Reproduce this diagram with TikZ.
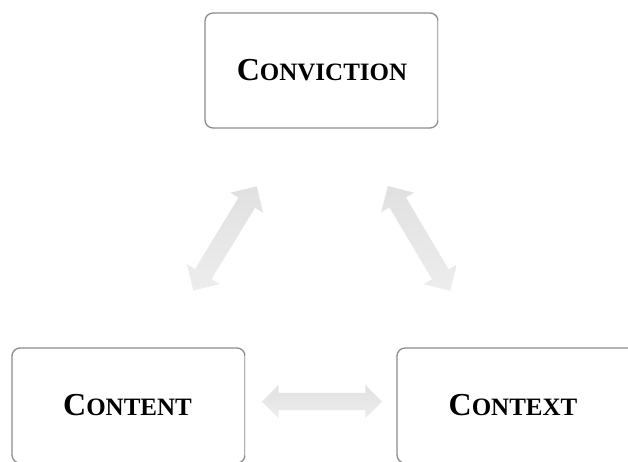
\documentclass[tikz,border=0pt]{standalone}
\usepackage{fontspec}
\setmainfont{Liberation Serif}
\usetikzlibrary{shapes.arrows}
\newcommand{\capword}[2]{{\fontsize{32}{36}\selectfont\bfseries #1}{\fontsize{25}{30}\selectfont\bfseries #2}}
\tikzset{
  box/.style={draw=black!45, line width=1.3pt, rounded corners=8pt,
    minimum width=233pt, minimum height=115pt, inner sep=0pt},
  fadeedge/.style={draw=black!8, line width=1.6pt},
  blockarrow/.style={shape=double arrow, draw=none, inner xsep=0pt, inner ysep=9.5pt,
    top color=black!12, bottom color=black!7,
    minimum height=#1, minimum width=38pt, double arrow head extend=9.5pt, double arrow tip angle=90},
}
\begin{document}
\begin{tikzpicture}[x=1pt,y=-1pt]
\useasboundingbox (0,0) rectangle (628,461);
\clip (0,0) rectangle (628,461);
\node[box] (conv) at (321.5,70.5) {};
\node[box] (cont) at (128.5,405.5) {};
\node[box, minimum width=245pt] (ctx) at (519.5,405.5) {};
\draw[fadeedge] ([yshift=-8pt]conv.north east) -- ([yshift=8pt]conv.south east);
\draw[fadeedge] ([yshift=-8pt]cont.north east) -- ([yshift=8pt]cont.south east);
\node (convt) at (322,70) {\capword{C}{ONVICTION}};
\node (contt) at (127.5,405) {\capword{C}{ONTENT}};
\node (ctxt) at (513,405) {\capword{C}{ONTEXT}};
\node[blockarrow=122pt, rotate=58.7] (a1) at (225,238.4) {};
\node[blockarrow=122pt, rotate=-59.3] (a2) at (419,238.4) {};
\node[blockarrow=120pt, inner ysep=8.5pt, minimum width=33pt, double arrow head extend=8pt] (a3) at (322,401.5) {};
\end{tikzpicture}
\end{document}
